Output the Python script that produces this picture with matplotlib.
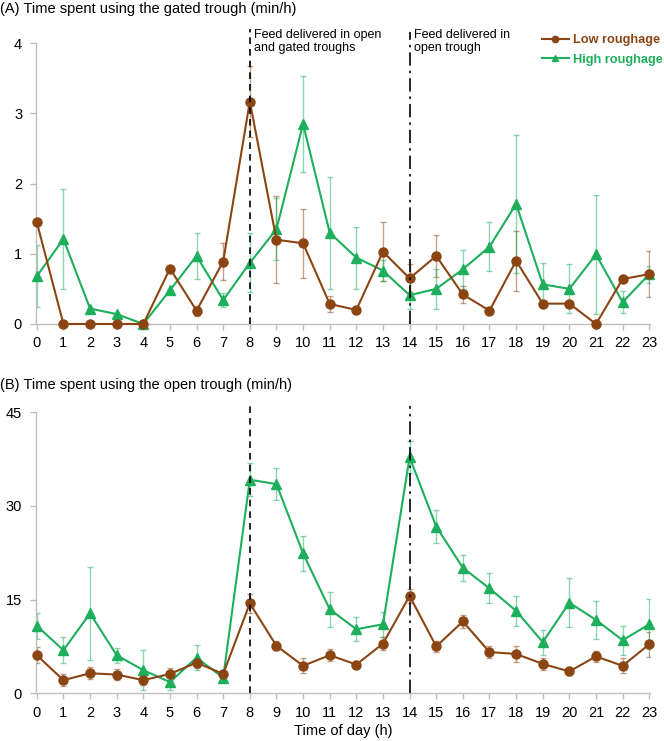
import matplotlib
matplotlib.use("Agg")
import matplotlib.pyplot as plt
import numpy as np

plt.rcParams['font.family'] = ['Liberation Sans', 'DejaVu Sans']

hours = list(range(24))

# Panel A: gated trough (min/h)
low_a = [1.45, 0, 0, 0, 0, 0.79, 0.19, 0.89, 3.17, 1.20, 1.15, 0.285,
         0.20, 1.03, 0.65, 0.97, 0.42, 0.19, 0.90, 0.29, 0.29, 0, 0.64, 0.71]
low_a_err = [0, 0, 0, 0, 0, 0, 0.07, 0.27, 0.51, 0.62, 0.49, 0.115,
             0.04, 0.42, 0.20, 0.30, 0.12, 0, 0.43, 0, 0, 0, 0, 0.33]
high_a = [0.68, 1.21, 0.22, 0.14, 0, 0.48, 0.97, 0.34, 0.87, 1.35, 2.85, 1.30,
          0.945, 0.76, 0.41, 0.50, 0.78, 1.10, 1.71, 0.565, 0.50, 0.99, 0.31, 0.71]
high_a_err = [0.44, 0.71, 0, 0, 0, 0, 0.33, 0.10, 0.42, 0.44, 0.68, 0.80,
              0.44, 0.15, 0.20, 0.28, 0.28, 0.35, 0.98, 0.30, 0.35, 0.85, 0.16, 0.12]

# Panel B: open trough (min/h)
low_b = [6.1, 2.1, 3.2, 3.0, 2.1, 3.1, 4.9, 3.1, 14.4, 7.6, 4.4, 6.1,
         4.6, 7.95, 15.6, 7.5, 11.5, 6.6, 6.3, 4.7, 3.5, 5.9, 4.4, 7.85]
low_b_err = [1.3, 1.0, 0.95, 0.95, 0.8, 0.9, 0.8, 0.5, 1.5, 0.7, 1.2, 1.0,
             0.6, 1.0, 1.1, 0.9, 1.1, 0.9, 1.3, 1.0, 0.5, 0.9, 1.2, 2.0]
high_b = [10.8, 6.9, 12.8, 6.1, 3.7, 1.8, 5.7, 2.5, 34.2, 33.5, 22.4, 13.45,
          10.25, 11.05, 37.8, 26.7, 20.1, 16.8, 13.2, 8.2, 14.5, 11.75, 8.5, 11.05]
high_b_err = [2.1, 2.1, 7.5, 1.2, 3.2, 1.3, 2.0, 0.4, 2.6, 2.6, 2.8, 2.8,
              1.9, 2.0, 2.6, 2.7, 2.1, 2.4, 2.4, 2.0, 3.9, 3.0, 2.3, 4.0]

brown = '#8B4513'
green = '#1DAF5C'
spine_c = '#BFBFBF'

fig = plt.figure(figsize=(6.64, 7.41), dpi=100)
axA = fig.add_axes([0.0542, 0.5628, 0.9248, 0.3788])
axB = fig.add_axes([0.0542, 0.0644, 0.9248, 0.3792])


def style(ax, ymax, yticks):
    ax.set_xlim(-0.03, 23.03)
    ax.set_ylim(0, ymax)
    ax.set_yticks(yticks)
    ax.set_xticks(hours)
    for s in ['top', 'right']:
        ax.spines[s].set_visible(False)
    for s in ['left', 'bottom']:
        ax.spines[s].set_color(spine_c)
        ax.spines[s].set_linewidth(1.0)
    ax.tick_params(axis='both', colors=spine_c, labelcolor='black',
                   labelsize=10.5, length=4, width=1)
    ax.tick_params(axis='x', pad=5)
    ax.tick_params(axis='y', pad=6)


def series(ax, lo, loe, hi, hie):
    ax.errorbar(hours, lo, yerr=loe, fmt='none', ecolor=brown, alpha=0.5,
                elinewidth=1, capsize=2.5, capthick=1, zorder=2)
    ax.errorbar(hours, hi, yerr=hie, fmt='none', ecolor=green, alpha=0.5,
                elinewidth=1, capsize=2.5, capthick=1, zorder=2)
    l1, = ax.plot(hours, lo, color=brown, marker='o', markersize=6.5, lw=1.5,
                  zorder=4, clip_on=False, label='Low roughage')
    l2, = ax.plot(hours, hi, color=green, marker='^', markersize=6.5, lw=1.5,
                  zorder=3, clip_on=False, label='High roughage')
    return l1, l2


style(axA, 4, [0, 1, 2, 3, 4])
l1, l2 = series(axA, low_a, low_a_err, high_a, high_a_err)
style(axB, 45, [0, 15, 30, 45])
series(axB, low_b, low_b_err, high_b, high_b_err)

# feed delivery lines
axA.plot([8, 8], [0, 4.2], color='black', lw=1.2, ls=(0, (4, 3)), clip_on=False, zorder=5)
axA.plot([14, 14], [0, 4.16], color='black', lw=1.2, ls=(0, (8, 3, 1.5, 3)), clip_on=False, zorder=5)
axB.plot([8, 8], [0, 46.0], color='black', lw=1.2, ls=(0, (4, 3)), clip_on=False, zorder=5)
axB.plot([14, 14], [0, 46.0], color='black', lw=1.2, ls=(0, (8, 3, 1.5, 3)), clip_on=False, zorder=5)

axA.text(8.15, 4.2, 'Feed delivered in open\nand gated troughs', fontsize=9,
         va='top', ha='left', linespacing=1.05)
axA.text(14.15, 4.2, 'Feed delivered in\nopen trough', fontsize=9,
         va='top', ha='left', linespacing=1.05)

fig.text(0.0, 0.988, '(A) Time spent using the gated trough (min/h)', fontsize=10.5,
         ha='left', va='center')
fig.text(0.0, 0.4804, '(B) Time spent using the open trough (min/h)', fontsize=10.5,
         ha='left', va='center')
axB.set_xlabel('Time of day (h)', fontsize=10.5, labelpad=3)

leg = fig.legend(handles=[l1, l2], loc='upper left',
                 bbox_to_anchor=(542 / 664, 1 - 34 / 741),
                 frameon=False, fontsize=9.2, handlelength=2.1, handletextpad=0.35,
                 borderaxespad=0, borderpad=0, labelspacing=0.6, markerscale=0.7)
for t, c in zip(leg.get_texts(), [brown, green]):
    t.set_color(c)
    t.set_fontweight('bold')

fig.savefig('out.png', dpi=100)
